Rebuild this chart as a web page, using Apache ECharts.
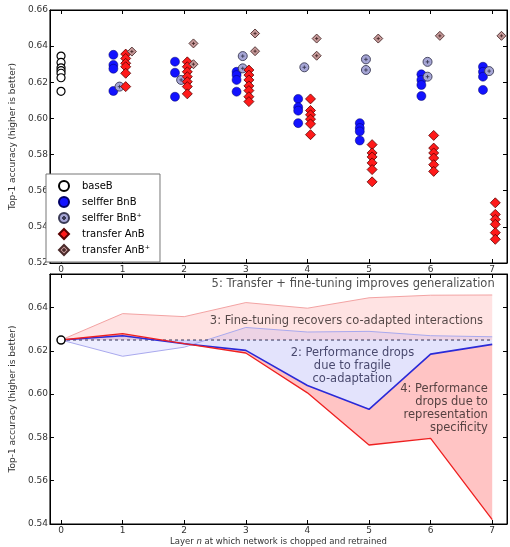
<!DOCTYPE html>
<html><head><meta charset="utf-8">
<script src="https://cdn.jsdelivr.net/npm/echarts@6/dist/echarts.min.js"></script>
<style>html,body{margin:0;padding:0;background:#fff}#c{width:510px;height:547px}</style>
</head><body><div id="c"></div>
<script>
// ---------- data ----------
const layers = [1, 2, 3, 4, 5, 6, 7];
const allLayers = [0, 1, 2, 3, 4, 5, 6, 7];
const xTickLabels = ['0', '1', '2', '3', '4', '5', '6', '7'];
const legendNames = ['baseB', 'selffer BnB', 'selffer BnB\u207A', 'transfer AnB', 'transfer AnB\u207A'];

// top panel: individual runs
const baseB = [0.6345, 0.631, 0.628, 0.6265, 0.625, 0.6225, 0.615];
const selfferBnB = [
  [0.6352, 0.6296, 0.6275, 0.6152],
  [0.6314, 0.6253, 0.612],
  [0.6258, 0.624, 0.6213, 0.6148],
  [0.6108, 0.6062, 0.6043, 0.5974],
  [0.5974, 0.5947, 0.5928, 0.5878],
  [0.6244, 0.6213, 0.6185, 0.6124],
  [0.6286, 0.6258, 0.6231, 0.6158]
];
const selfferBnBplus = [
  [0.6176],
  [0.6213],
  [0.6345, 0.6277],
  [0.6283],
  [0.6327, 0.6268],
  [0.6313, 0.6231],
  [0.6262]
];
const transferAnB = [
  [0.6356, 0.6332, 0.6305, 0.6286, 0.625, 0.6176],
  [0.6313, 0.6286, 0.6258, 0.6231, 0.6203, 0.6176, 0.6136],
  [0.6268, 0.624, 0.6213, 0.618, 0.6154, 0.612, 0.6093],
  [0.6108, 0.6044, 0.602, 0.5996, 0.597, 0.591],
  [0.5855, 0.5809, 0.5787, 0.5754, 0.5717, 0.5649],
  [0.5906, 0.5836, 0.5809, 0.5781, 0.5744, 0.5707],
  [0.5533, 0.5469, 0.5441, 0.5414, 0.5368, 0.5331]
];
const transferAnBplus = [
  [0.637],
  [0.6415, 0.630],
  [0.647, 0.6372],
  [0.6442, 0.6347],
  [0.6442],
  [0.6457],
  [0.6457]
];

// bottom panel: mean lines
const baseMean = 0.625;
const meanBnB      = [0.625, 0.627, 0.6233, 0.6202, 0.604, 0.593, 0.6185, 0.623];
const meanBnBplus  = [0.625, 0.6175, 0.6217, 0.6308, 0.6287, 0.629, 0.627, 0.6265];
const meanAnB      = [0.625, 0.628, 0.6233, 0.619, 0.6006, 0.5765, 0.5796, 0.542];
const meanAnBplus  = [0.625, 0.6372, 0.6358, 0.6423, 0.6397, 0.6445, 0.6457, 0.6458];

const annotationTexts = [
  '5: Transfer + fine-tuning improves generalization',
  '3: Fine-tuning recovers co-adapted interactions',
  '2: Performance drops\ndue to fragile\nco-adaptation',
  '4: Performance\ndrops due to\nrepresentation\nspecificity'
];

// ---------- layout / style ----------
const FONT = 'DejaVu Sans';
const annotationPlacement = [
  {x: 7.04, y: 0.6509, align: 'right', color: '#222'},
  {x: 6.85, y: 0.6338, align: 'right', color: '#2a2222'},
  {x: 4.73, y: 0.6130, align: 'center', color: '#22224a'},
  {x: 6.93, y: 0.5932, align: 'right', color: '#2a2020'}
];

function runs(groups, offset) {
  const out = [];
  groups.forEach((vals, i) => vals.forEach(v => out.push([layers[i] + offset, v])));
  return out;
}
function isMult(v, step) { const q = v / step; return Math.abs(q - Math.round(q)) < 1e-6; }

function xAx(grid, pos, showLabel, extra) {
  return Object.assign({
    type: 'value', gridIndex: grid, position: pos, min: -0.18, max: 7.24,
    minInterval: 1, maxInterval: 1,
    axisLine: {show: true, onZero: false, lineStyle: {color: '#000', width: 1}},
    axisTick: {show: true, inside: true, length: 4, lineStyle: {color: '#000'}},
    axisLabel: {show: showLabel, fontSize: 9, color: '#333', fontFamily: FONT, margin: 2,
      formatter: v => isMult(v, 1) ? xTickLabels[Math.round(v)] : ''},
    splitLine: {show: false}
  }, extra || {});
}
function yAx(grid, pos, showLabel, min, max, extra) {
  return Object.assign({
    type: 'value', gridIndex: grid, position: pos, min: min, max: max, interval: 0.02,
    axisLine: {show: true, onZero: false, lineStyle: {color: '#000', width: 1}},
    axisTick: {show: true, inside: true, length: 4, lineStyle: {color: '#000'}},
    axisLabel: {show: showLabel, fontSize: 9, color: '#333', fontFamily: FONT, margin: 2,
      formatter: v => isMult(v, 0.02) ? v.toFixed(2) : ''},
    splitLine: {show: false}
  }, extra || {});
}
const yName = {
  name: 'Top-1 accuracy (higher is better)', nameLocation: 'middle', nameGap: 25,
  nameTextStyle: {fontSize: 9, color: '#333', fontFamily: FONT}
};

const circlePlus = 'path://M0,10A10,10 0 1,1 20,10A10,10 0 1,1 0,10Z M10,6L10,14 M6,10L14,10';
const diamondPlus = 'path://M10,0L20,10L10,20L0,10Z M10,6.5L10,13.5 M6.5,10L13.5,10';

function fillBetween(upper, lower, color) {
  return {
    type: 'custom', xAxisIndex: 2, yAxisIndex: 2, silent: true, z: 1,
    data: [[0, lower[0]]],
    renderItem: function (params, api) {
      const pts = [];
      for (let i = 0; i < allLayers.length; i++) pts.push(api.coord([allLayers[i], upper[i]]));
      for (let i = allLayers.length - 1; i >= 0; i--) pts.push(api.coord([allLayers[i], lower[i]]));
      return {type: 'polygon', shape: {points: pts}, style: {fill: color}};
    }
  };
}
const baseLine = allLayers.map(() => baseMean);
const pairs = arr => allLayers.map((x, i) => [x, arr[i]]);

const chart = echarts.init(document.getElementById('c'), null, {renderer: 'canvas'});
chart.setOption({
  animation: false,
  backgroundColor: '#fff',
  textStyle: {fontFamily: FONT},
  grid: [
    {left: 42, top: 10, width: 467, height: 253, show: true, borderColor: '#000', borderWidth: 1, backgroundColor: 'transparent'},
    {left: 42, top: 274, width: 467, height: 250, show: true, borderColor: '#000', borderWidth: 1, backgroundColor: 'transparent'}
  ],
  xAxis: [
    xAx(0, 'bottom', true),
    xAx(0, 'top', false),
    xAx(1, 'bottom', true, {
      name: '{a|Layer }{i|n}{a| at which network is chopped and retrained}',
      nameLocation: 'middle', nameGap: 13,
      nameTextStyle: {fontSize: 8.5, color: '#333', fontFamily: FONT,
        rich: {a: {fontSize: 8.5, color: '#333', fontFamily: FONT}, i: {fontSize: 8.5, color: '#333', fontStyle: 'italic', fontFamily: FONT}}}
    }),
    xAx(1, 'top', false)
  ],
  yAxis: [
    yAx(0, 'left', true, 0.52, 0.66, yName),
    yAx(0, 'right', false, 0.52, 0.66),
    yAx(1, 'left', true, 0.54, 0.6555, yName),
    yAx(1, 'right', false, 0.54, 0.6555)
  ],
  legend: {
    data: legendNames, orient: 'vertical', left: 46, top: 174,
    padding: [6, 10, 6, 12], itemGap: 4, itemWidth: 10, itemHeight: 10,
    borderColor: '#777', borderWidth: 1, backgroundColor: '#fff', borderRadius: 0,
    textStyle: {fontSize: 10, color: '#000', fontFamily: FONT, lineHeight: 12, padding: [0, 0, 0, 8]},
    selectedMode: false
  },
  series: [
    // ---- top panel ----
    {name: legendNames[0], type: 'scatter', xAxisIndex: 0, yAxisIndex: 0, symbol: 'circle', symbolSize: 8,
      itemStyle: {color: '#fff', borderColor: '#000', borderWidth: 1.2, opacity: 1},
      data: baseB.map(v => [0, v])},
    {name: legendNames[1], type: 'scatter', xAxisIndex: 0, yAxisIndex: 0, symbol: 'circle', symbolSize: 9,
      itemStyle: {color: '#1212ff', borderColor: '#000066', borderWidth: 0.5, opacity: 1},
      data: runs(selfferBnB, -0.15)},
    {name: legendNames[2], type: 'scatter', xAxisIndex: 0, yAxisIndex: 0, symbol: circlePlus, symbolSize: 9,
      itemStyle: {color: '#a6a6d6', borderColor: '#3a3a55', borderWidth: 0.9, opacity: 1},
      data: runs(selfferBnBplus, -0.05)},
    {name: legendNames[3], type: 'scatter', xAxisIndex: 0, yAxisIndex: 0, symbol: 'diamond', symbolSize: 10,
      itemStyle: {color: '#ff1a1a', borderColor: '#5a0000', borderWidth: 0.8, opacity: 1},
      data: runs(transferAnB, 0.05)},
    {name: legendNames[4], type: 'scatter', xAxisIndex: 0, yAxisIndex: 0, symbol: diamondPlus, symbolSize: 9,
      itemStyle: {color: '#c79a9a', borderColor: '#4a2a2a', borderWidth: 0.9, opacity: 1},
      data: runs(transferAnBplus, 0.15)},

    // ---- bottom panel fills ----
    fillBetween(meanAnBplus, baseLine, 'rgba(255,0,0,0.11)'),
    fillBetween(meanBnBplus, baseLine, 'rgba(0,0,255,0.07)'),
    fillBetween(baseLine, meanBnB, 'rgba(40,40,230,0.13)'),
    fillBetween(meanBnB, meanAnB, 'rgba(255,0,0,0.23)'),

    // ---- bottom panel lines ----
    {name: 'AnB+ mean', type: 'line', xAxisIndex: 2, yAxisIndex: 2, showSymbol: false, silent: true, z: 3,
      lineStyle: {color: '#f3a3a3', width: 1}, data: pairs(meanAnBplus)},
    {name: 'BnB+ mean', type: 'line', xAxisIndex: 2, yAxisIndex: 2, showSymbol: false, silent: true, z: 3,
      lineStyle: {color: '#a9a9ee', width: 1}, data: pairs(meanBnBplus)},
    {name: 'baseB mean', type: 'line', xAxisIndex: 2, yAxisIndex: 2, showSymbol: false, silent: true, z: 3,
      lineStyle: {color: '#333355', width: 1, type: [3, 3]}, data: pairs(baseLine)},
    {name: 'BnB mean', type: 'line', xAxisIndex: 2, yAxisIndex: 2, showSymbol: false, silent: true, z: 3,
      lineStyle: {color: '#2a2ad8', width: 1.6}, data: pairs(meanBnB)},
    {name: 'AnB mean', type: 'line', xAxisIndex: 2, yAxisIndex: 2, showSymbol: false, silent: true, z: 3,
      lineStyle: {color: '#ee2020', width: 1.3}, data: pairs(meanAnB)},
    {name: 'baseB point', type: 'scatter', xAxisIndex: 2, yAxisIndex: 2, symbol: 'circle', symbolSize: 8, z: 4,
      itemStyle: {color: '#fff', borderColor: '#000', borderWidth: 1.5, opacity: 1},
      data: [[allLayers[0], baseMean]]},

    // ---- annotations ----
    {name: 'notes', type: 'scatter', xAxisIndex: 2, yAxisIndex: 2, symbolSize: 0, silent: true, z: 5,
      data: annotationTexts.map((t, i) => ({
        value: [annotationPlacement[i].x, annotationPlacement[i].y],
        label: {show: true, formatter: t, position: [0, 0], align: annotationPlacement[i].align,
          verticalAlign: 'middle', fontSize: 11.5, lineHeight: 13, color: annotationPlacement[i].color, fontFamily: FONT}
      }))}
  ]
});
</script></body></html>
